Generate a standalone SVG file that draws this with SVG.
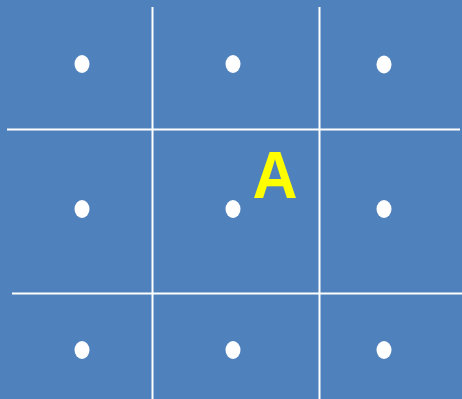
<svg xmlns="http://www.w3.org/2000/svg" width="462" height="399" viewBox="0 0 462 399">
<style>
.ln{stroke:#ffffff;stroke-width:2;fill:none}
.dot{fill:#ffffff}
.lbl{fill:#ffff00;font-family:"Liberation Sans",Arial,sans-serif;font-weight:bold;font-size:66px;text-anchor:middle}
</style>
<rect x="0" y="0" width="462" height="399" fill="#4f81bd"/>
<g id="connectors">
<line class="ln" x1="152.5" y1="7" x2="152.5" y2="399"/>
<line class="ln" x1="319.5" y1="7" x2="319.5" y2="399"/>
<line class="ln" x1="7" y1="129.5" x2="460" y2="129.5"/>
<line class="ln" x1="12" y1="293.5" x2="462" y2="293.5"/>
</g>
<g id="n11"><ellipse class="dot" cx="82" cy="64" rx="7.5" ry="9"/></g>
<g id="n12"><ellipse class="dot" cx="233" cy="64" rx="7.5" ry="9"/></g>
<g id="n13"><ellipse class="dot" cx="384" cy="64.5" rx="7.5" ry="9"/></g>
<g id="n21"><ellipse class="dot" cx="82" cy="209" rx="7.5" ry="9"/></g>
<g id="n22"><ellipse class="dot" cx="233" cy="209" rx="7.5" ry="9"/></g>
<g id="n23"><ellipse class="dot" cx="384" cy="209" rx="7.5" ry="9"/></g>
<g id="n31"><ellipse class="dot" cx="82" cy="350" rx="7.5" ry="9"/></g>
<g id="n32"><ellipse class="dot" cx="233" cy="350" rx="7.5" ry="9"/></g>
<g id="n33"><ellipse class="dot" cx="384" cy="350" rx="7.5" ry="9"/></g>
<g id="label-a"><text class="lbl" x="275" y="198" textLength="45" lengthAdjust="spacingAndGlyphs">A</text></g>
</svg>
